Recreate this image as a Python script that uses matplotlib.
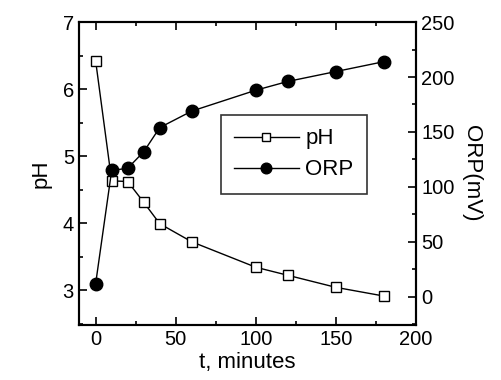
import matplotlib
matplotlib.use("Agg")
import matplotlib.pyplot as plt
from matplotlib.ticker import MultipleLocator

plt.rcParams['font.family'] = ['Liberation Sans', 'DejaVu Sans']

# time in minutes
t = [0, 10, 20, 30, 40, 60, 100, 120, 150, 180]
ph = [6.42, 4.63, 4.62, 4.31, 3.99, 3.72, 3.34, 3.22, 3.04, 2.91]
orp = [12, 115, 117, 132, 154, 169, 188, 196, 205, 214]

fig, ax = plt.subplots(figsize=(5.02, 3.8), dpi=100)
fig.subplots_adjust(left=0.157, right=0.829, top=0.942, bottom=0.145)
ax2 = ax.twinx()

l1, = ax.plot(t, ph, '-s', color='black', mfc='white', mec='black',
              ms=7, lw=1, mew=1, label='pH')
l2, = ax2.plot(t, orp, '-o', color='black', ms=9, lw=1, label='ORP')

ax.set_xlim(-10.5, 200)
ax.set_ylim(2.48, 7)
ax2.set_ylim(-25.5, 250)

ax.xaxis.set_major_locator(MultipleLocator(50))
ax.xaxis.set_minor_locator(MultipleLocator(25))
ax.yaxis.set_major_locator(MultipleLocator(1))
ax.yaxis.set_minor_locator(MultipleLocator(0.5))
ax2.yaxis.set_major_locator(MultipleLocator(50))
ax2.yaxis.set_minor_locator(MultipleLocator(25))

ax.tick_params(which='both', direction='in', top=True, labelsize=14.5, width=1.2)
ax.tick_params(which='major', length=6)
ax.tick_params(which='minor', length=3)
ax2.tick_params(which='both', direction='in', labelsize=14.5, width=1.2)
ax2.tick_params(which='major', length=6)
ax2.tick_params(which='minor', length=3)

for a in (ax, ax2):
    for s in a.spines.values():
        s.set_linewidth(1.5)

ax.set_xlabel('t, minutes', fontsize=16, labelpad=2)
ax.set_ylabel('pH', fontsize=16, labelpad=8)
ax2.set_ylabel('ORP(mV)', fontsize=16, rotation=270, labelpad=20)

leg = ax.legend(handles=[l1, l2], loc='upper left', bbox_to_anchor=(0.421, 0.693),
                borderaxespad=0, fontsize=16, frameon=True, fancybox=False,
                edgecolor='black', numpoints=1, handlelength=2.9, markerscale=0.85,
                borderpad=0.6, labelspacing=0.45, handletextpad=0.3)
leg.get_frame().set_linewidth(1.2)

fig.savefig('out.png', dpi=100)
